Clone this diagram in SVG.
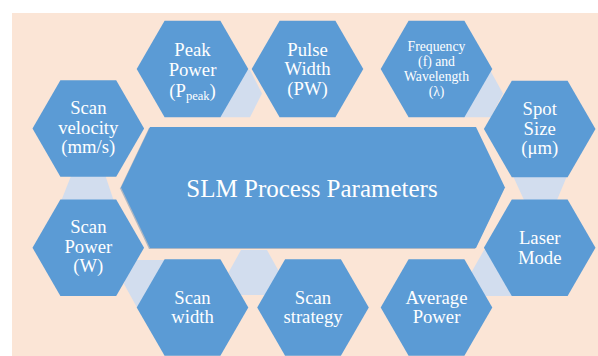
<svg xmlns="http://www.w3.org/2000/svg" xmlns:xlink="http://www.w3.org/1999/xlink" width="598" height="356" viewBox="0 0 598 356">
  <style>
    .hex { fill: #5B9BD5; }
    .link { fill: #D2DDEE; }
    .lbl { font-family: 'Liberation Serif', 'Times New Roman', serif; font-size: 18.7px; fill: #FFFFFF; text-anchor: middle; }
    .small { font-size: 13.7px; }
    .title { font-size: 25px; }
  </style>
  <defs>
    <!-- flat-topped regular hexagon centred on the origin -->
    <polygon id="hex" class="hex" points="-55.8,0 -27.9,-48.3 27.9,-48.3 55.8,0 27.9,48.3 -27.9,48.3"/>
  </defs>

  <rect x="0" y="0" width="598" height="356" fill="#FFFFFF"/>
  <rect x="12" y="13" width="586" height="343" fill="#FBE5D6"/>

  <!-- light linking shapes between neighbouring hexagons -->
  <g id="connectors">
    <polygon class="link" points="236,70 250,70 262,93.5 250,117.3 220,117.3"/>
    <polygon class="link" points="478,70 490,70 503,93.5 491,117.3 463,117.3"/>
    <polygon class="link" points="71,176 105.5,176 113.5,200 61.5,200"/>
    <polygon class="link" points="513,176 567,176 557,200 524,200"/>
    <polygon class="link" points="130,260 165,260 137,307.5 124,284"/>
    <polygon class="link" points="228.5,272.5 241,250 267,250 279.5,272.5 267,295 241,295"/>
    <polygon class="link" points="471,273 484,250 500,250 512,296 485,296"/>
  </g>

  <g id="center">
    <polygon points="120,188.5 149,128 475,128 504,188.5 475,249 149,249" fill="#8FA3B8" opacity="0.7"/>
    <polygon class="hex" points="121,187.5 150,127 476,127 505,187.5 476,248 150,248"/>
    <text class="lbl title" x="312" y="196.5">SLM Process Parameters</text>
  </g>

  <g id="peak-power" transform="translate(192.5,69)">
    <use xlink:href="#hex"/>
    <text class="lbl" x="0" y="-13.5">Peak</text>
    <text class="lbl" x="0" y="7">Power</text>
    <text class="lbl" x="0" y="27.5">(P<tspan font-size="12.5" dy="3.5">peak</tspan><tspan dy="-3.5">)</tspan></text>
  </g>

  <g id="pulse-width" transform="translate(307.5,69)">
    <use xlink:href="#hex"/>
    <text class="lbl" x="0" y="-13.5">Pulse</text>
    <text class="lbl" x="0" y="6">Width</text>
    <text class="lbl" x="0" y="26">(PW)</text>
  </g>

  <g id="frequency" transform="translate(436.5,69)">
    <use xlink:href="#hex"/>
    <text class="lbl small" x="0" y="-18.5">Frequency</text>
    <text class="lbl small" x="0" y="-3.5">(f) and</text>
    <text class="lbl small" x="0" y="11.5">Wavelength</text>
    <text class="lbl small" x="0" y="26.5">(λ)</text>
  </g>

  <g id="spot-size" transform="translate(539.7,129)">
    <use xlink:href="#hex"/>
    <text class="lbl" x="0" y="-14">Spot</text>
    <text class="lbl" x="0" y="5.5">Size</text>
    <text class="lbl" x="0" y="25">(μm)</text>
  </g>

  <g id="scan-velocity" transform="translate(88.3,128.5)">
    <use xlink:href="#hex"/>
    <text class="lbl" x="0" y="-14.2">Scan</text>
    <text class="lbl" x="0" y="5">velocity</text>
    <text class="lbl" x="0" y="24.5">(mm/s)</text>
  </g>

  <g id="scan-power" transform="translate(88.3,247.7)">
    <use xlink:href="#hex"/>
    <text class="lbl" x="0" y="-14.5">Scan</text>
    <text class="lbl" x="0" y="5">Power</text>
    <text class="lbl" x="0" y="24.5">(W)</text>
  </g>

  <g id="scan-width" transform="translate(192.5,307.5)">
    <use xlink:href="#hex"/>
    <text class="lbl" x="0" y="-3.3">Scan</text>
    <text class="lbl" x="0" y="15.8">width</text>
  </g>

  <g id="scan-strategy" transform="translate(313,307.5)">
    <use xlink:href="#hex"/>
    <text class="lbl" x="0" y="-3.3">Scan</text>
    <text class="lbl" x="0" y="15.8">strategy</text>
  </g>

  <g id="average-power" transform="translate(436.5,307.5)">
    <use xlink:href="#hex"/>
    <text class="lbl" x="0" y="-3.3">Average</text>
    <text class="lbl" x="0" y="15.8">Power</text>
  </g>

  <g id="laser-mode" transform="translate(539.7,247.7)">
    <use xlink:href="#hex"/>
    <text class="lbl" x="0" y="-3.3">Laser</text>
    <text class="lbl" x="0" y="15.8">Mode</text>
  </g>
</svg>
